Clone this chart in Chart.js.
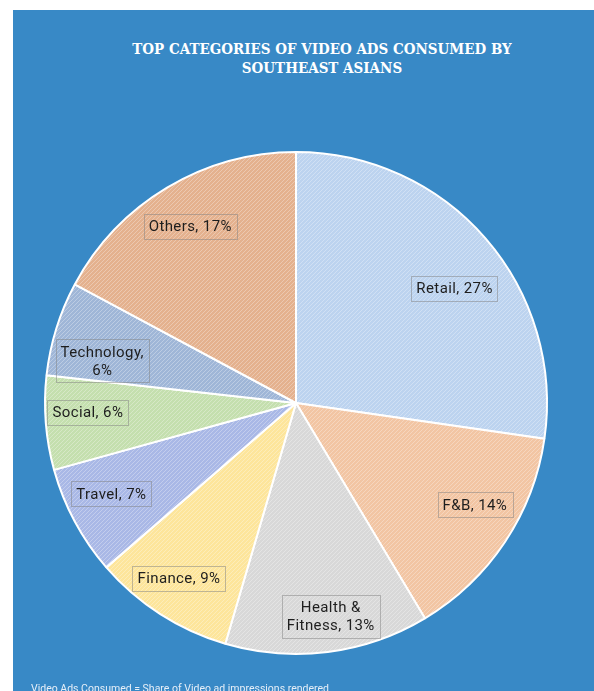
<!DOCTYPE html>
<html>
<head>
<meta charset="utf-8">
<script src="https://cdn.jsdelivr.net/npm/chart.js@4.4.1/dist/chart.umd.min.js"></script>
<style>
    body { margin: 0; background: #fff; width: 594px; height: 691px; overflow: hidden; position: relative; }
    #panel { position: absolute; left: 13px; top: 10px; width: 581px; height: 681px; background: #3889c6; }
    #title { position: absolute; left: 72px; width: 500px; top: 39px; text-align: center; color: #fff; white-space: nowrap;
             font: bold 15.5px/19px "DejaVu Serif", serif; transform: scaleX(0.87); transform-origin: center; }
    #note { position: absolute; left: 31px; top: 683px; color: #e6eff8; font: 10.5px/12px Roboto, sans-serif; white-space: nowrap; }
    #chart { position: absolute; left: 0; top: 0; }
</style>
</head>
<body>
<div id="panel"></div>
<div id="title">TOP CATEGORIES OF VIDEO ADS CONSUMED BY<br>SOUTHEAST ASIANS</div>
<canvas id="chart" width="594" height="691"></canvas>
<div id="note">Video Ads Consumed = Share of Video ad impressions rendered</div>

<script>
// categories, clockwise from 12 o'clock
const categories = ['Retail', 'F&B', 'Health & Fitness', 'Finance', 'Travel', 'Social', 'Technology', 'Others'];
const shares = [27, 14, 13, 9, 7, 6, 6, 17];
// label text as printed inside each slice (multi-line where it wraps)
const sliceLabels = [
    ['Retail, 27%'],
    ['F&B, 14%'],
    ['Health &', 'Fitness, 13%'],
    ['Finance, 9%'],
    ['Travel, 7%'],
    ['Social, 6%'],
    ['Technology,', '6%'],
    ['Others, 17%']
];
const sliceColors = ['#bcd3ef', '#f2c5a3', '#d8d8d8', '#fde59b', '#a9b8e6', '#c4dfae', '#9fb6d7', '#e4b18e'];

// label placement inside each arc: fraction of the radius, small turn in degrees
const labelRadius = [0.78, 0.82, 0.86, 0.84, 0.82, 0.83, 0.79, 0.82];
const labelTurn = [5, -4, -2, 1, 2, 2, -5, 0];

// light diagonal hatch on top of a flat fill
function hatch(color) {
    const c = document.createElement('canvas');
    c.width = 4;
    c.height = 4;
    const ctx = c.getContext('2d');
    ctx.fillStyle = color;
    ctx.fillRect(0, 0, 4, 4);
    ctx.strokeStyle = 'rgba(255,255,255,0.3)';
    ctx.lineWidth = 1;
    ctx.beginPath();
    ctx.moveTo(0, 4);
    ctx.lineTo(4, 0);
    ctx.moveTo(-1, 1);
    ctx.lineTo(1, -1);
    ctx.moveTo(3, 5);
    ctx.lineTo(5, 3);
    ctx.stroke();
    return ctx.createPattern(c, 'repeat');
}

// boxed labels inside the slices
const boxedLabels = {
    id: 'boxedLabels',
    afterDatasetsDraw(chart) {
        const ctx = chart.ctx;
        const arcs = chart.getDatasetMeta(0).data;
        ctx.save();
        ctx.font = '15px Roboto, sans-serif';
        ctx.letterSpacing = '0.4px';
        ctx.textAlign = 'center';
        ctx.textBaseline = 'middle';
        arcs.forEach((arc, i) => {
            const mid = (arc.startAngle + arc.endAngle) / 2 + labelTurn[i] * Math.PI / 180;
            const r = arc.outerRadius * labelRadius[i];
            const x = arc.x + Math.cos(mid) * r;
            const y = arc.y + Math.sin(mid) * r;
            const lines = sliceLabels[i];
            const lineH = 18;
            const w = Math.max(...lines.map(l => ctx.measureText(l).width)) + 10;
            const h = lines.length * lineH + 7;
            ctx.strokeStyle = 'rgba(130,130,130,0.5)';
            ctx.lineWidth = 1;
            ctx.strokeRect(Math.round(x - w / 2) + 0.5, Math.round(y - h / 2) + 0.5, Math.round(w), Math.round(h));
            ctx.fillStyle = '#1e1e1e';
            lines.forEach((l, k) => {
                ctx.fillText(l, x, y - (lines.length - 1) * lineH / 2 + k * lineH + 1);
            });
        });
        ctx.restore();
    }
};

new Chart(document.getElementById('chart'), {
    type: 'pie',
    data: {
        labels: categories,
        datasets: [{
            data: shares,
            backgroundColor: sliceColors.map(hatch),
            borderColor: '#ffffff',
            borderWidth: 2
        }]
    },
    options: {
        responsive: false,
        animation: false,
        layout: {
            padding: { left: 44, right: 46, top: 151, bottom: 36 }
        },
        plugins: {
            legend: { display: false },
            tooltip: { enabled: false }
        }
    },
    plugins: [boxedLabels]
});
</script>
</body>
</html>
